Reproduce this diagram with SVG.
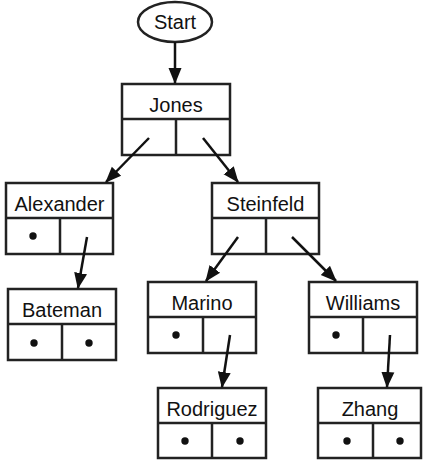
<svg xmlns="http://www.w3.org/2000/svg" width="423" height="461" viewBox="0 0 423 461">
<defs>
<style>
.box{fill:#fff;stroke:#222;stroke-width:2.5}
.ln{fill:none;stroke:#222;stroke-width:2.5}
.lbl{font-family:"Liberation Sans",Arial,sans-serif;font-size:20px;fill:#111;text-anchor:middle}
.dot{fill:#111}
.conn{stroke:#111;stroke-width:2.5;fill:none;marker-end:url(#ah)}
</style>
<marker id="ah" markerUnits="userSpaceOnUse" markerWidth="16" markerHeight="16" viewBox="0 0 16 16" refX="15" refY="8" orient="auto">
<path d="M0,1.5 L16,8 L0,14.5 z" fill="#111"/>
</marker>
</defs>
<rect width="423" height="461" fill="#fff"/>
<g id="start">
<ellipse cx="175" cy="22" rx="37" ry="20" class="box"/>
<text x="175" y="29" class="lbl">Start</text>
</g>
<g id="jones">
<rect x="122" y="84" width="108" height="71" class="box"/>
<path d="M122,119 H230 M176,119 V155" class="ln"/>
<text x="176" y="111.5" class="lbl">Jones</text>
</g>
<g id="alexander">
<rect x="6" y="183" width="107" height="71" class="box"/>
<path d="M6,218 H113 M60,218 V254" class="ln"/>
<text x="59.5" y="210.5" class="lbl">Alexander</text>
<circle cx="33" cy="236" r="3.7" class="dot"/>
</g>
<g id="steinfeld">
<rect x="212" y="183" width="107" height="71" class="box"/>
<path d="M212,218 H319 M266,218 V254" class="ln"/>
<text x="265.5" y="210.5" class="lbl">Steinfeld</text>
</g>
<g id="bateman">
<rect x="8" y="289" width="108" height="71" class="box"/>
<path d="M8,324 H116 M62,324 V360" class="ln"/>
<text x="62" y="316.5" class="lbl">Bateman</text>
<circle cx="34" cy="343" r="3.7" class="dot"/>
<circle cx="89" cy="343" r="3.7" class="dot"/>
</g>
<g id="marino">
<rect x="148" y="282" width="108" height="71" class="box"/>
<path d="M148,317 H256 M203,317 V353" class="ln"/>
<text x="202" y="309.5" class="lbl">Marino</text>
<circle cx="176" cy="335" r="3.7" class="dot"/>
</g>
<g id="williams">
<rect x="309" y="282" width="108" height="71" class="box"/>
<path d="M309,317 H417 M363,317 V353" class="ln"/>
<text x="363" y="309.5" class="lbl">Williams</text>
<circle cx="336" cy="335" r="3.7" class="dot"/>
</g>
<g id="rodriguez">
<rect x="158" y="388" width="108" height="70" class="box"/>
<path d="M158,423 H266 M212,423 V458" class="ln"/>
<text x="212" y="415.5" class="lbl">Rodriguez</text>
<circle cx="185" cy="441" r="3.7" class="dot"/>
<circle cx="240" cy="441" r="3.7" class="dot"/>
</g>
<g id="zhang">
<rect x="318" y="388" width="103" height="70" class="box"/>
<path d="M318,423 H421 M373,423 V458" class="ln"/>
<text x="370" y="415.5" class="lbl">Zhang</text>
<circle cx="347" cy="441" r="3.7" class="dot"/>
<circle cx="400" cy="441" r="3.7" class="dot"/>
</g>
<g id="connectors">
<line x1="175" y1="42" x2="175" y2="83" class="conn"/>
<line x1="149" y1="138" x2="106" y2="182" class="conn"/>
<line x1="203" y1="138" x2="238" y2="182" class="conn"/>
<line x1="87" y1="237" x2="78" y2="288" class="conn"/>
<line x1="238" y1="237" x2="206" y2="281" class="conn"/>
<line x1="292" y1="237" x2="336" y2="281" class="conn"/>
<line x1="230" y1="335" x2="222" y2="387" class="conn"/>
<line x1="390" y1="335" x2="387" y2="387" class="conn"/>
</g>
</svg>
